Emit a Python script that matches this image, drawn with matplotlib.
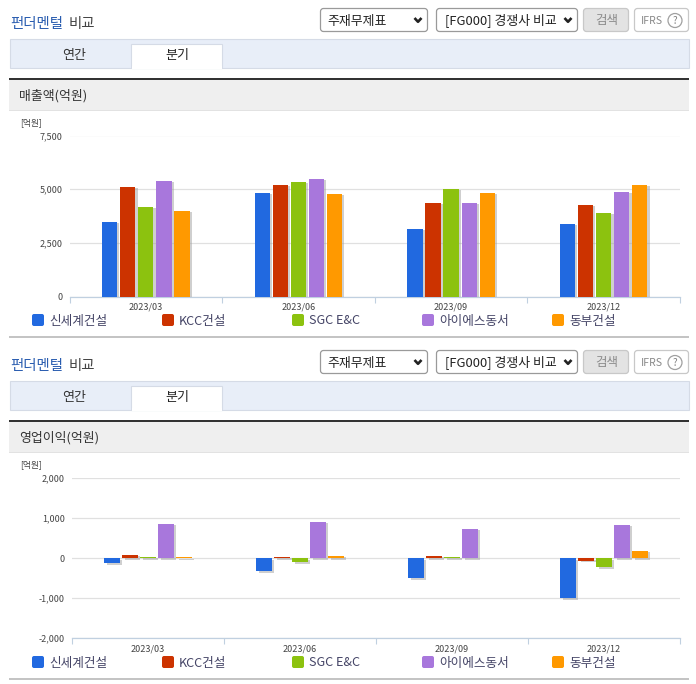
"""Fundamentals comparison screen: revenue and operating profit by quarter"""
import matplotlib
matplotlib.use("Agg")
import matplotlib.pyplot as plt
import matplotlib.patheffects as pe
from matplotlib.patches import Rectangle, FancyBboxPatch, Circle

import numpy as np

plt.rcParams['font.family'] = ['Noto Sans CJK KR', 'DejaVu Sans']

quarters = ['2023/03', '2023/06', '2023/09', '2023/12']
companies = ['신세계건설', 'KCC건설', 'SGC E&C', '아이에스동서', '동부건설']
colors = ['#2169e0', '#cc3300', '#8cc20f', '#a877dc', '#ff9900']

sales_shinsegae = [3480, 4830, 3150, 3385]
sales_kcc = [5110, 5200, 4365, 4270]
sales_sgc = [4180, 5330, 5020, 3900]
sales_is = [5390, 5470, 4365, 4880]
sales_dongbu = [3990, 4785, 4830, 5200]

profit_shinsegae = [-125, -325, -500, -1000]
profit_kcc = [90, 45, 60, -55]
profit_sgc = [45, -100, 35, -225]
profit_is = [865, 915, 740, 840]
profit_dongbu = [25, 60, 0, 190]

sales_ticks = [0, 2500, 5000, 7500]
profit_ticks = [-2000, -1000, 0, 1000, 2000]

W, H = 696, 684
fig = plt.figure(figsize=(W / 100, H / 100), dpi=100, facecolor='w')

# Page furniture is drawn in pixel coordinates
bg = fig.add_axes([0, 0, 1, 1], zorder=0)
bg.set_xlim(0, W)
bg.set_ylim(H, 0)
bg.axis('off')


def box(x0, y0, x1, y1, fc, ec='none', lw=0.8):
    bg.add_patch(Rectangle((x0, y0), x1 - x0, y1 - y0, fc=fc, ec=ec, lw=lw))


def rbox(x0, y0, x1, y1, fc, ec, r=3):
    bg.add_patch(FancyBboxPatch((x0 + r, y0 + r), x1 - x0 - 2 * r, y1 - y0 - 2 * r,
                                boxstyle=f'round,pad={r},rounding_size={r}',
                                fc=fc, ec=ec, lw=0.9))


def chevron(x, y):
    bg.plot([x - 3.5, x, x + 3.5], [y - 2, y + 1.8, y - 2], c='#222222', lw=1.9,
            solid_capstyle='butt')


def chrome(dy, header):
    bg.text(10, 28 + dy, '펀더멘털', color='#2a5db0', fontsize=10.4, weight='medium', va='baseline')
    bg.text(69, 28 + dy, '비교', color='#444444', fontsize=10.4, weight='medium', va='baseline')

    rbox(320.5, 8.5 + dy, 427.5, 31.5 + dy, 'white', '#9a9a9a')
    bg.text(327, 24.5 + dy, '주재무제표', color='#222222', fontsize=9.3, va='baseline')
    chevron(418, 20 + dy)
    rbox(436.5, 8.5 + dy, 577.5, 31.5 + dy, 'white', '#9a9a9a')
    bg.text(445, 24.5 + dy, '[FG000] 경쟁사 비교', color='#222222', fontsize=9.3, va='baseline')
    chevron(568, 20 + dy)
    rbox(583.5, 8.5 + dy, 628.5, 31.5 + dy, '#e3e3e3', '#c8c8c8')
    bg.text(606.5, 20.5 + dy, '검색', color='#8a8a8a', fontsize=9, ha='center', va='center')
    rbox(634.5, 8.5 + dy, 688.5, 31.5 + dy, 'white', '#c8c8c8')
    bg.text(641, 24 + dy, 'IFRS', color='#8a8a8a', fontsize=7.6, va='baseline')
    bg.add_patch(Circle((675, 20.5 + dy), 7, fc='white', ec='#a0a0a0', lw=0.9))
    bg.text(675, 20.5 + dy, '?', color='#808080', fontsize=7, ha='center', va='center')

    box(9.5, 38.5 + dy, 688.5, 67.5 + dy, '#e8eef8', '#d5dbe6')
    box(131, 43.5 + dy, 222, 68 + dy, 'white', '#d5dbe6')
    box(131.5, 66 + dy, 221.5, 69 + dy, 'white')
    bg.text(74, 55.5 + dy, '연간', color='#333333', fontsize=9.4, ha='center', va='center')
    bg.text(177, 55.5 + dy, '분기', color='#222222', fontsize=9.4, ha='center', va='center')

    box(9, 80 + dy, 689, 110 + dy, '#efefef')
    box(9, 110 + dy, 689, 111 + dy, '#e2e2e2')
    box(9, 78 + dy, 689, 80 + dy, '#333333')
    bg.text(19, 100 + dy, header, color='#333333', fontsize=9.3, va='baseline')
    bg.text(20, 122.5 + dy, '[억원]', color='#444444', fontsize=6.3, va='center')

    for x, name, c in zip([32, 162, 292, 422, 552], companies, colors):
        rbox(x, 314 + dy, x + 12, 326 + dy, c, 'none', r=2)
        bg.text(x + 17, 324.5 + dy, name, color='#444466', fontsize=9.1, va='baseline')
    box(9, 335.5 + dy, 689, 337.5 + dy, '#c4c4c4')


def panel(left, right, top, bottom, series, ticks):
    ax = fig.add_axes([left / W, 1 - bottom / H, (right - left) / W, (bottom - top) / H],
                      zorder=1)
    ax.patch.set_alpha(0)
    x = np.arange(len(quarters)) + 0.5
    shadow = [pe.SimplePatchShadow(offset=(1.6, -1.0), shadow_rgbFace='#a0a0a0', alpha=0.5),
              pe.Normal()]
    for i, (vals, c) in enumerate(zip(series, colors)):
        bars = ax.bar(x + (i - 2) * 0.1185, vals, width=0.1, color=c, zorder=3)
        for b in bars:
            b.set_path_effects(shadow)
    ax.set_xlim(0, len(quarters))
    ax.set_ylim(ticks[0], ticks[-1])
    ax.set_yticks(ticks)
    ax.set_yticklabels([f'{t:,}' for t in ticks], fontsize=6.5, color='#444444')
    ax.tick_params(axis='y', length=0, pad=5)
    ax.set_xticks(np.arange(len(quarters) + 1))
    ax.set_xticklabels([])
    ax.tick_params(axis='x', length=4, width=0.8, color='#c0d0e0')
    for xc, q in zip(x, quarters):
        ax.annotate(q, (xc, 0), xycoords=('data', 'axes fraction'), xytext=(0, -7.5),
                    textcoords='offset points', ha='center', va='center',
                    fontsize=6.5, color='#444444')
    ax.grid(axis='y', color='#e0e0e0', lw=0.9, zorder=0)
    ax.set_axisbelow(True)
    for s in ['top', 'left', 'right']:
        ax.spines[s].set_visible(False)
    ax.spines['bottom'].set_color('#c0d0e0')
    ax.spines['bottom'].set_linewidth(0.9)
    return ax


chrome(0, '매출액(억원)')
chrome(342, '영업이익(억원)')

panel(69.5, 680, 135.5, 296.5,
      [sales_shinsegae, sales_kcc, sales_sgc, sales_is, sales_dongbu], sales_ticks)
panel(72, 680, 478.3, 638.3,
      [profit_shinsegae, profit_kcc, profit_sgc, profit_is, profit_dongbu], profit_ticks)

plt.savefig('out.png', dpi=100, facecolor='w')
